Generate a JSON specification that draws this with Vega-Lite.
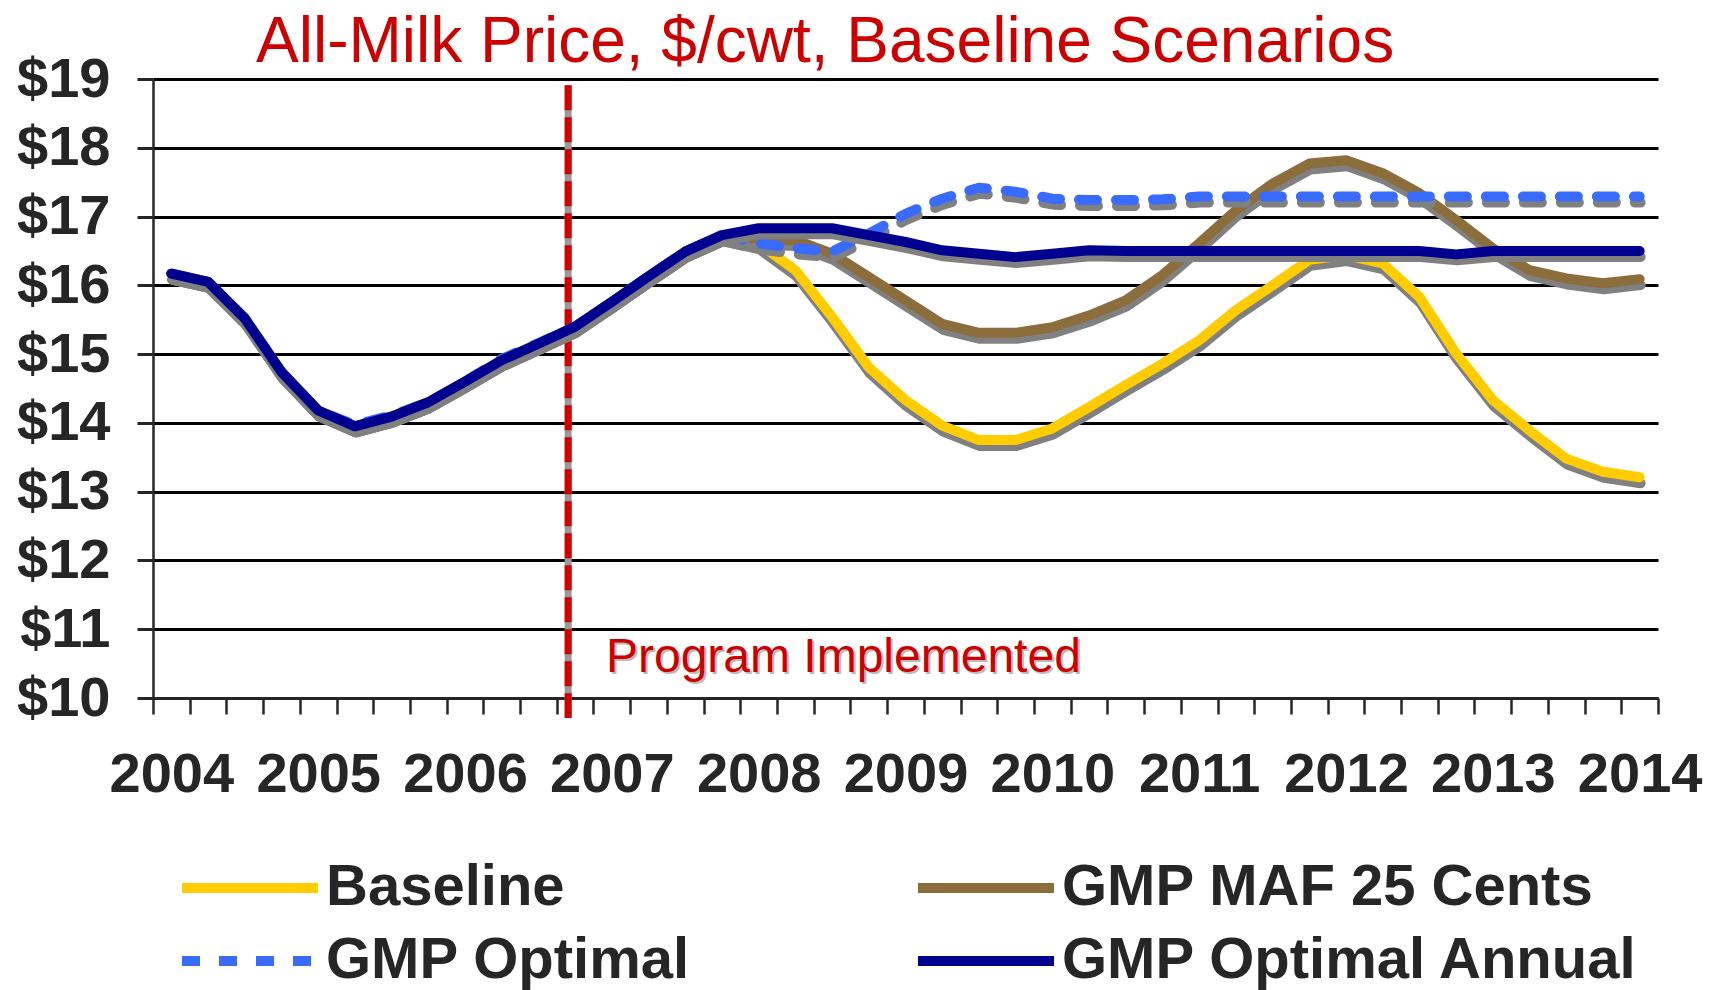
{
  "$schema": "https://vega.github.io/schema/vega-lite/v6.json",
  "autosize": {"type": "none"},
  "width": 1505,
  "height": 619,
  "padding": {"left": 153, "top": 79, "right": 59, "bottom": 292},
  "background": "white",
  "title": {
    "text": "All-Milk Price, $/cwt, Baseline Scenarios",
    "font": "Liberation Sans",
    "fontSize": 64,
    "fontWeight": "normal",
    "color": "#CC0000",
    "anchor": "start",
    "frame": "group",
    "dx": 103,
    "dy": 28
  },
  "config": {
    "view": {"stroke": null},
    "legend": {
      "orient": "none",
      "legendX": 68,
      "legendY": 780,
      "direction": "horizontal",
      "columns": 2,
      "columnPadding": 206,
      "rowPadding": 15,
      "labelFont": "Liberation Sans",
      "labelFontSize": 58,
      "labelFontWeight": "bold",
      "labelColor": "#262626",
      "labelLimit": 1000,
      "labelOffset": 47,
      "symbolType": "M-5,0H5",
      "symbolSize": 740,
      "symbolStrokeWidth": 10
    }
  },
  "datasets": {
    "prices": [
      {"q": 0, "period": "2004 Q1", "Baseline": 16.17, "GMP MAF 25 Cents": 16.17, "GMP Optimal": 16.17, "GMP Optimal Annual": 16.17},
      {"q": 1, "period": "2004 Q2", "Baseline": 16.05, "GMP MAF 25 Cents": 16.05, "GMP Optimal": 16.05, "GMP Optimal Annual": 16.05},
      {"q": 2, "period": "2004 Q3", "Baseline": 15.52, "GMP MAF 25 Cents": 15.52, "GMP Optimal": 15.52, "GMP Optimal Annual": 15.52},
      {"q": 3, "period": "2004 Q4", "Baseline": 14.74, "GMP MAF 25 Cents": 14.74, "GMP Optimal": 14.74, "GMP Optimal Annual": 14.74},
      {"q": 4, "period": "2005 Q1", "Baseline": 14.18, "GMP MAF 25 Cents": 14.18, "GMP Optimal": 14.18, "GMP Optimal Annual": 14.18},
      {"q": 5, "period": "2005 Q2", "Baseline": 13.95, "GMP MAF 25 Cents": 13.95, "GMP Optimal": 13.97, "GMP Optimal Annual": 13.95},
      {"q": 6, "period": "2005 Q3", "Baseline": 14.09, "GMP MAF 25 Cents": 14.09, "GMP Optimal": 14.11, "GMP Optimal Annual": 14.09},
      {"q": 7, "period": "2005 Q4", "Baseline": 14.30, "GMP MAF 25 Cents": 14.30, "GMP Optimal": 14.30, "GMP Optimal Annual": 14.30},
      {"q": 8, "period": "2006 Q1", "Baseline": 14.60, "GMP MAF 25 Cents": 14.60, "GMP Optimal": 14.60, "GMP Optimal Annual": 14.60},
      {"q": 9, "period": "2006 Q2", "Baseline": 14.91, "GMP MAF 25 Cents": 14.91, "GMP Optimal": 14.93, "GMP Optimal Annual": 14.91},
      {"q": 10, "period": "2006 Q3", "Baseline": 15.15, "GMP MAF 25 Cents": 15.15, "GMP Optimal": 15.16, "GMP Optimal Annual": 15.15},
      {"q": 11, "period": "2006 Q4", "Baseline": 15.40, "GMP MAF 25 Cents": 15.40, "GMP Optimal": 15.40, "GMP Optimal Annual": 15.40},
      {"q": 12, "period": "2007 Q1", "Baseline": 15.76, "GMP MAF 25 Cents": 15.76, "GMP Optimal": 15.76, "GMP Optimal Annual": 15.76},
      {"q": 13, "period": "2007 Q2", "Baseline": 16.13, "GMP MAF 25 Cents": 16.13, "GMP Optimal": 16.13, "GMP Optimal Annual": 16.13},
      {"q": 14, "period": "2007 Q3", "Baseline": 16.49, "GMP MAF 25 Cents": 16.49, "GMP Optimal": 16.49, "GMP Optimal Annual": 16.49},
      {"q": 15, "period": "2007 Q4", "Baseline": 16.73, "GMP MAF 25 Cents": 16.73, "GMP Optimal": 16.73, "GMP Optimal Annual": 16.73},
      {"q": 16, "period": "2008 Q1", "Baseline": 16.61, "GMP MAF 25 Cents": 16.68, "GMP Optimal": 16.61, "GMP Optimal Annual": 16.83},
      {"q": 17, "period": "2008 Q2", "Baseline": 16.22, "GMP MAF 25 Cents": 16.66, "GMP Optimal": 16.54, "GMP Optimal Annual": 16.83},
      {"q": 18, "period": "2008 Q3", "Baseline": 15.54, "GMP MAF 25 Cents": 16.46, "GMP Optimal": 16.49, "GMP Optimal Annual": 16.83},
      {"q": 19, "period": "2008 Q4", "Baseline": 14.81, "GMP MAF 25 Cents": 16.12, "GMP Optimal": 16.75, "GMP Optimal Annual": 16.73},
      {"q": 20, "period": "2009 Q1", "Baseline": 14.33, "GMP MAF 25 Cents": 15.78, "GMP Optimal": 17.04, "GMP Optimal Annual": 16.63},
      {"q": 21, "period": "2009 Q2", "Baseline": 13.96, "GMP MAF 25 Cents": 15.44, "GMP Optimal": 17.26, "GMP Optimal Annual": 16.51},
      {"q": 22, "period": "2009 Q3", "Baseline": 13.75, "GMP MAF 25 Cents": 15.31, "GMP Optimal": 17.42, "GMP Optimal Annual": 16.46},
      {"q": 23, "period": "2009 Q4", "Baseline": 13.75, "GMP MAF 25 Cents": 15.31, "GMP Optimal": 17.36, "GMP Optimal Annual": 16.41},
      {"q": 24, "period": "2010 Q1", "Baseline": 13.92, "GMP MAF 25 Cents": 15.39, "GMP Optimal": 17.26, "GMP Optimal Annual": 16.46},
      {"q": 25, "period": "2010 Q2", "Baseline": 14.23, "GMP MAF 25 Cents": 15.56, "GMP Optimal": 17.24, "GMP Optimal Annual": 16.51},
      {"q": 26, "period": "2010 Q3", "Baseline": 14.55, "GMP MAF 25 Cents": 15.78, "GMP Optimal": 17.24, "GMP Optimal Annual": 16.50},
      {"q": 27, "period": "2010 Q4", "Baseline": 14.86, "GMP MAF 25 Cents": 16.15, "GMP Optimal": 17.25, "GMP Optimal Annual": 16.50},
      {"q": 28, "period": "2011 Q1", "Baseline": 15.20, "GMP MAF 25 Cents": 16.61, "GMP Optimal": 17.29, "GMP Optimal Annual": 16.50},
      {"q": 29, "period": "2011 Q2", "Baseline": 15.64, "GMP MAF 25 Cents": 17.09, "GMP Optimal": 17.29, "GMP Optimal Annual": 16.50},
      {"q": 30, "period": "2011 Q3", "Baseline": 16.00, "GMP MAF 25 Cents": 17.48, "GMP Optimal": 17.29, "GMP Optimal Annual": 16.50},
      {"q": 31, "period": "2011 Q4", "Baseline": 16.37, "GMP MAF 25 Cents": 17.77, "GMP Optimal": 17.29, "GMP Optimal Annual": 16.50},
      {"q": 32, "period": "2012 Q1", "Baseline": 16.44, "GMP MAF 25 Cents": 17.82, "GMP Optimal": 17.29, "GMP Optimal Annual": 16.50},
      {"q": 33, "period": "2012 Q2", "Baseline": 16.32, "GMP MAF 25 Cents": 17.63, "GMP Optimal": 17.29, "GMP Optimal Annual": 16.50},
      {"q": 34, "period": "2012 Q3", "Baseline": 15.83, "GMP MAF 25 Cents": 17.34, "GMP Optimal": 17.29, "GMP Optimal Annual": 16.50},
      {"q": 35, "period": "2012 Q4", "Baseline": 15.01, "GMP MAF 25 Cents": 16.95, "GMP Optimal": 17.29, "GMP Optimal Annual": 16.45},
      {"q": 36, "period": "2013 Q1", "Baseline": 14.33, "GMP MAF 25 Cents": 16.54, "GMP Optimal": 17.29, "GMP Optimal Annual": 16.50},
      {"q": 37, "period": "2013 Q2", "Baseline": 13.89, "GMP MAF 25 Cents": 16.22, "GMP Optimal": 17.29, "GMP Optimal Annual": 16.50},
      {"q": 38, "period": "2013 Q3", "Baseline": 13.48, "GMP MAF 25 Cents": 16.10, "GMP Optimal": 17.29, "GMP Optimal Annual": 16.50},
      {"q": 39, "period": "2013 Q4", "Baseline": 13.29, "GMP MAF 25 Cents": 16.03, "GMP Optimal": 17.29, "GMP Optimal Annual": 16.50},
      {"q": 40, "period": "2014 Q1", "Baseline": 13.21, "GMP MAF 25 Cents": 16.09, "GMP Optimal": 17.29, "GMP Optimal Annual": 16.50}
    ],
    "program": [
      {"label": "Program Implemented", "q": 10.81, "top": 18.91, "bottom": 9.71, "textQ": 11.84, "textY": 10.58}
    ]
  },
  "data": {"name": "prices"},
  "transform": [
    {"fold": ["Baseline", "GMP MAF 25 Cents", "GMP Optimal", "GMP Optimal Annual"], "as": ["series", "price"]}
  ],
  "encoding": {
    "x": {
      "field": "q",
      "type": "quantitative",
      "scale": {"domain": [-0.5, 40.5], "nice": false, "zero": false},
      "axis": {
        "title": null,
        "values": [-0.5, 0.5, 1.5, 2.5, 3.5, 4.5, 5.5, 6.5, 7.5, 8.5, 9.5, 10.5, 11.5, 12.5, 13.5, 14.5, 15.5, 16.5, 17.5, 18.5, 19.5, 20.5, 21.5, 22.5, 23.5, 24.5, 25.5, 26.5, 27.5, 28.5, 29.5, 30.5, 31.5, 32.5, 33.5, 34.5, 35.5, 36.5, 37.5, 38.5, 39.5, 40.5],
        "labelExpr": "(datum.value + 0.5) % 4 == 0 ? '' + (2004 + (datum.value + 0.5) / 4) : ''",
        "labelOffset": 18.35,
        "labelOverlap": false,
        "labelFlush": false,
        "labelBound": false,
        "labelFont": "Liberation Sans",
        "labelFontSize": 56,
        "labelFontWeight": "bold",
        "labelColor": "#262626",
        "labelPadding": 33,
        "tickSize": 16,
        "tickWidth": 2.5,
        "tickColor": "#262626",
        "domainColor": "#262626",
        "domainWidth": 3,
        "grid": false
      }
    },
    "y": {
      "field": "price",
      "type": "quantitative",
      "scale": {"domain": [10, 19], "nice": false, "zero": false},
      "axis": {
        "title": null,
        "values": [10, 11, 12, 13, 14, 15, 16, 17, 18, 19],
        "labelExpr": "'$' + datum.value",
        "labelFont": "Liberation Sans",
        "labelFontSize": 56,
        "labelFontWeight": "bold",
        "labelColor": "#262626",
        "labelPadding": 27,
        "tickSize": 16,
        "tickWidth": 3,
        "tickColor": "#262626",
        "domainColor": "#262626",
        "domainWidth": 2.5,
        "grid": true,
        "gridColor": "#000000",
        "gridWidth": 3
      }
    }
  },
  "layer": [
    {
      "data": {"name": "program"},
      "transform": [],
      "mark": {"type": "rule", "color": "#9A9A9A", "strokeWidth": 7},
      "encoding": {"x": {"field": "q", "type": "quantitative"}, "y": {"field": "top", "type": "quantitative"}, "y2": {"field": "bottom"}}
    },
    {
      "data": {"name": "program"},
      "transform": [],
      "mark": {"type": "rule", "color": "#D00000", "strokeWidth": 7, "strokeDash": [25, 7]},
      "encoding": {"x": {"field": "q", "type": "quantitative"}, "y": {"field": "top", "type": "quantitative"}, "y2": {"field": "bottom"}}
    },
    {
      "data": {"name": "program"},
      "transform": [],
      "mark": {"type": "text", "align": "left", "baseline": "middle", "font": "Liberation Sans", "fontSize": 48, "color": "#BBBBBB", "dx": 2, "dy": 2},
      "encoding": {"x": {"field": "textQ", "type": "quantitative"}, "y": {"field": "textY", "type": "quantitative"}, "text": {"field": "label"}}
    },
    {
      "data": {"name": "program"},
      "transform": [],
      "mark": {"type": "text", "align": "left", "baseline": "middle", "font": "Liberation Sans", "fontSize": 48, "color": "#CC0000"},
      "encoding": {"x": {"field": "textQ", "type": "quantitative"}, "y": {"field": "textY", "type": "quantitative"}, "text": {"field": "label"}}
    },
    {
      "transform": [{"filter": "datum.series == 'Baseline'"}],
      "mark": {"type": "line", "color": "#808080", "strokeWidth": 10, "strokeCap": "round", "strokeJoin": "round", "xOffset": 1, "yOffset": 6},
      "encoding": {}
    },
    {
      "transform": [{"filter": "datum.series == 'Baseline'"}],
      "mark": {"type": "line", "strokeWidth": 10, "strokeCap": "round", "strokeJoin": "round"},
      "encoding": {"color": {"field": "series", "type": "nominal", "title": null, "scale": {"domain": ["Baseline", "GMP MAF 25 Cents", "GMP Optimal", "GMP Optimal Annual"], "range": ["#FFCC00", "#8C6D3C", "#3A6BFF", "#000090"]}}}
    },
    {
      "transform": [{"filter": "datum.series == 'GMP MAF 25 Cents'"}],
      "mark": {"type": "line", "color": "#808080", "strokeWidth": 10, "strokeCap": "round", "strokeJoin": "round", "xOffset": 1, "yOffset": 6},
      "encoding": {}
    },
    {
      "transform": [{"filter": "datum.series == 'GMP MAF 25 Cents'"}],
      "mark": {"type": "line", "strokeWidth": 10, "strokeCap": "round", "strokeJoin": "round"},
      "encoding": {"color": {"field": "series", "type": "nominal", "title": null}}
    },
    {
      "transform": [{"filter": "datum.series == 'GMP Optimal'"}],
      "mark": {"type": "line", "color": "#808080", "strokeWidth": 10, "strokeCap": "round", "strokeJoin": "round", "strokeDash": [18, 19], "xOffset": 1, "yOffset": 6},
      "encoding": {}
    },
    {
      "transform": [{"filter": "datum.series == 'GMP Optimal'"}],
      "mark": {"type": "line", "strokeWidth": 10, "strokeCap": "round", "strokeJoin": "round"},
      "encoding": {
        "color": {"field": "series", "type": "nominal", "title": null},
        "strokeDash": {"field": "series", "type": "nominal", "title": null, "scale": {"domain": ["Baseline", "GMP MAF 25 Cents", "GMP Optimal", "GMP Optimal Annual"], "range": [[1, 0], [1, 0], [18, 19], [1, 0]]}}
      }
    },
    {
      "transform": [{"filter": "datum.series == 'GMP Optimal Annual'"}],
      "mark": {"type": "line", "color": "#808080", "strokeWidth": 10, "strokeCap": "round", "strokeJoin": "round", "xOffset": 1, "yOffset": 6},
      "encoding": {}
    },
    {
      "transform": [{"filter": "datum.series == 'GMP Optimal Annual'"}],
      "mark": {"type": "line", "strokeWidth": 10, "strokeCap": "round", "strokeJoin": "round"},
      "encoding": {"color": {"field": "series", "type": "nominal", "title": null}}
    }
  ]
}
